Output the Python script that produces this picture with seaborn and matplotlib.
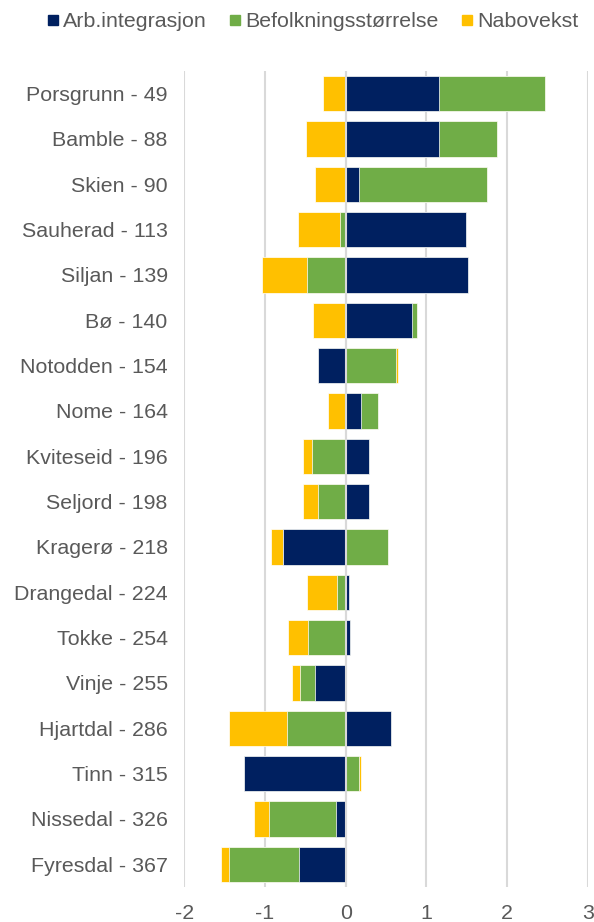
import numpy as np
import pandas as pd
import matplotlib
matplotlib.use("Agg")
import matplotlib.pyplot as plt
from matplotlib.lines import Line2D
import seaborn as sns

# Municipalities with their rank, and the three contribution components
kommuner = ["Porsgrunn - 49", "Bamble - 88", "Skien - 90", "Sauherad - 113",
            "Siljan - 139", "Bø - 140", "Notodden - 154", "Nome - 164",
            "Kviteseid - 196", "Seljord - 198", "Kragerø - 218",
            "Drangedal - 224", "Tokke - 254", "Vinje - 255", "Hjartdal - 286",
            "Tinn - 315", "Nissedal - 326", "Fyresdal - 367"]
arb_integrasjon = [1.16, 1.16, 0.17, 1.49, 1.52, 0.82, -0.34, 0.19, 0.29,
                   0.29, -0.78, 0.04, 0.05, -0.38, 0.56, -1.26, -0.12, -0.58]
befolkning = [1.31, 0.72, 1.58, -0.07, -0.48, 0.07, 0.63, 0.21, -0.42,
              -0.34, 0.53, -0.11, -0.47, -0.18, -0.73, 0.17, -0.83, -0.86]
nabovekst = [-0.28, -0.49, -0.38, -0.52, -0.56, -0.41, 0.02, -0.22, -0.11,
             -0.19, -0.14, -0.37, -0.25, -0.11, -0.71, 0.02, -0.19, -0.10]
x_ticks = [-2, -1, 0, 1, 2, 3]

series = ["Arb.integrasjon", "Befolkningsstørrelse", "Nabovekst"]
colors = {"Arb.integrasjon": "#002060",
          "Befolkningsstørrelse": "#70AD47",
          "Nabovekst": "#FFC000"}

df = pd.DataFrame({"kommune": kommuner,
                   "Arb.integrasjon": arb_integrasjon,
                   "Befolkningsstørrelse": befolkning,
                   "Nabovekst": nabovekst})

# Diverging stack: positives and negatives are stacked separately,
# each side in series order starting from zero.
vals = df[series].to_numpy()
pos_cum = np.cumsum(np.clip(vals, 0, None), axis=1)
neg_cum = np.cumsum(np.clip(vals, None, 0), axis=1)

sns.set_theme(style="white")
plt.rcParams["font.family"] = ["Liberation Sans", "DejaVu Sans"]
text_color = "#595959"
grid_color = "#D9D9D9"

fig = plt.figure(figsize=(5.94, 9.22), dpi=100)
ax = fig.add_axes([0.3103, 0.038, 0.6791, 0.885])

for x in x_ticks:
    ax.axvline(x, color=grid_color, lw=1.5, zorder=0)

# Draw outermost segment first; inner segments are painted over it
for i in reversed(range(len(series))):
    name = series[i]
    for cum in (pos_cum, neg_cum):
        layer = pd.DataFrame({"kommune": kommuner, "verdi": cum[:, i]})
        sns.barplot(data=layer, x="verdi", y="kommune", order=kommuner,
                    color=colors[name], saturation=1, width=0.78,
                    errorbar=None, orient="h", ax=ax,
                    edgecolor="white", linewidth=0.5, zorder=2)

ax.axvline(0, color=grid_color, lw=1.5, zorder=5)

ax.set_xlim(-2, 3)
ax.set_ylim(len(kommuner) - 0.5, -0.5)
ax.set_xticks(x_ticks)
ax.set_xticklabels([str(t) for t in x_ticks])
ax.set_xlabel("")
ax.set_ylabel("")
for s in ax.spines.values():
    s.set_visible(False)
ax.tick_params(axis="both", length=0, labelsize=15.4, colors=text_color)
ax.tick_params(axis="y", pad=12)
ax.tick_params(axis="x", pad=12)
ax.grid(False)

handles = [Line2D([], [], marker="s", linestyle="none", markersize=7.9,
                  markerfacecolor=colors[s], markeredgecolor=colors[s])
           for s in series]
leg = fig.legend(handles, series, loc="center", ncol=3,
                 bbox_to_anchor=(0.527, 1 - 21.5 / 922), frameon=False,
                 fontsize=15.4, handlelength=0.55, handletextpad=0.2,
                 columnspacing=1.05, borderaxespad=0, borderpad=0)
for t in leg.get_texts():
    t.set_color(text_color)

fig.savefig("out.png", dpi=100)
